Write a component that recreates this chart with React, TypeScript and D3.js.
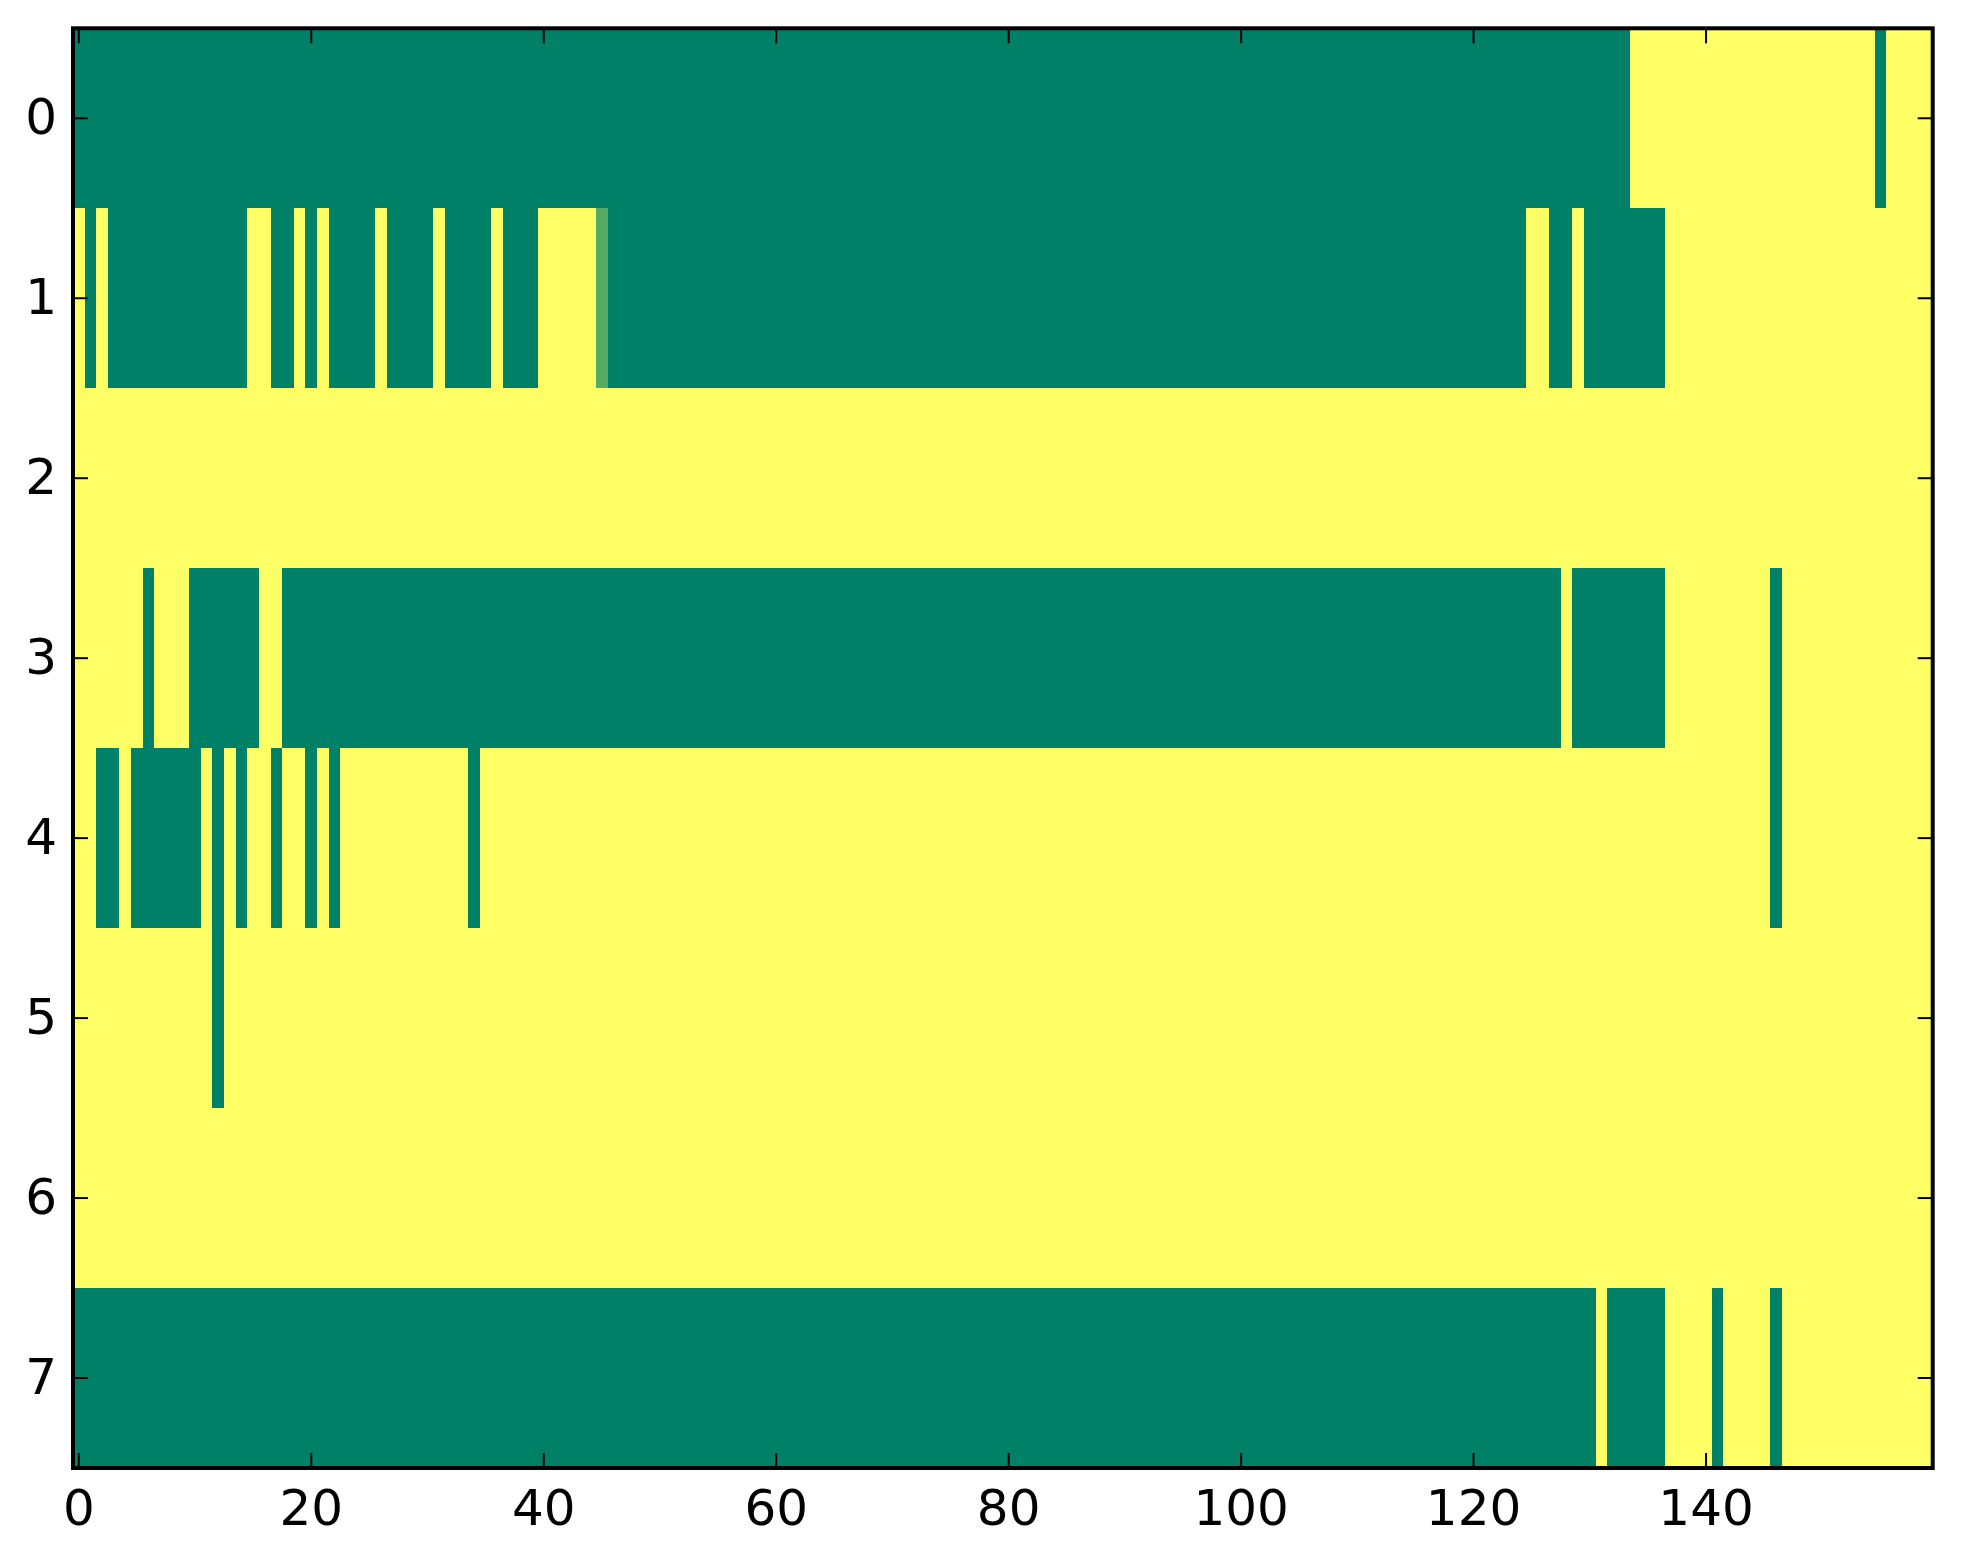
import React, { useRef, useEffect } from "react";
import * as d3 from "d3";

const WIDTH = 1963;
const HEIGHT = 1564;

// cell values: 0 = low (green), 1 = high (yellow), one cell in between
const LO = 0;
const HI = 1;
const MID = 1 / 3;

// each row is a run list of [value, number of columns], 160 columns per row
const row0 = [[LO, 134], [HI, 21], [LO, 1], [HI, 4]];
const row1 = [
  [HI, 1], [LO, 1], [HI, 1], [LO, 12], [HI, 2], [LO, 2], [HI, 1], [LO, 1],
  [HI, 1], [LO, 4], [HI, 1], [LO, 4], [HI, 1], [LO, 4], [HI, 1], [LO, 3],
  [HI, 5], [MID, 1], [LO, 79], [HI, 2], [LO, 2], [HI, 1], [LO, 7], [HI, 23],
];
const row2 = [[HI, 160]];
const row3 = [
  [HI, 6], [LO, 1], [HI, 3], [LO, 6], [HI, 2], [LO, 110], [HI, 1], [LO, 8],
  [HI, 9], [LO, 1], [HI, 13],
];
const row4 = [
  [HI, 2], [LO, 2], [HI, 1], [LO, 6], [HI, 1], [LO, 1], [HI, 1], [LO, 1],
  [HI, 2], [LO, 1], [HI, 2], [LO, 1], [HI, 1], [LO, 1], [HI, 11], [LO, 1],
  [HI, 111], [LO, 1], [HI, 13],
];
const row5 = [[HI, 12], [LO, 1], [HI, 147]];
const row6 = [[HI, 160]];
const row7 = [[LO, 131], [HI, 1], [LO, 5], [HI, 4], [LO, 1], [HI, 4], [LO, 1], [HI, 13]];

const rows = [row0, row1, row2, row3, row4, row5, row6, row7];
const nCols = 160;

const xTicks = [0, 20, 40, 60, 80, 100, 120, 140];
const yTicks = [0, 1, 2, 3, 4, 5, 6, 7];

export default function App() {
  const ref = useRef<HTMLDivElement>(null);

  useEffect(() => {
    if (!ref.current) return;
    document.body.style.margin = "0";
    ref.current.innerHTML = "";

    const box = { left: 73, right: 1932.7, top: 28.3, bottom: 1468 };

    const svg = d3.select(ref.current)
      .append("svg")
      .attr("width", WIDTH)
      .attr("height", HEIGHT)
      .style("display", "block")
      .style("background", "#fff");

    const x = d3.scaleLinear().domain([-0.5, nCols - 0.5]).range([box.left, box.right]);
    const y = d3.scaleLinear().domain([-0.5, rows.length - 0.5]).range([box.top, box.bottom]);

    // matplotlib "summer" colormap
    const color = d3.scaleLinear<string>().domain([0, 1]).range(["#008066", "#ffff66"]);

    // turn run lists into rectangles
    const cells: { row: number; start: number; end: number; v: number }[] = [];
    rows.forEach((runs, r) => {
      let c = 0;
      runs.forEach(([v, n]) => {
        cells.push({ row: r, start: c, end: c + n - 1, v });
        c += n;
      });
    });

    svg.append("g")
      .selectAll("rect")
      .data(cells)
      .enter()
      .append("rect")
      .attr("x", d => x(d.start - 0.5))
      .attr("y", d => y(d.row - 0.5))
      .attr("width", d => x(d.end + 0.5) - x(d.start - 0.5))
      .attr("height", d => y(d.row + 0.5) - y(d.row - 0.5))
      .attr("fill", d => color(d.v))
      .attr("shape-rendering", "crispEdges");

    const tickLen = 15;
    const ticks = svg.append("g").attr("stroke", "#000").attr("stroke-width", 2);

    // inward ticks on all four sides
    xTicks.forEach(t => {
      ticks.append("line").attr("x1", x(t)).attr("x2", x(t)).attr("y1", box.bottom).attr("y2", box.bottom - tickLen);
      ticks.append("line").attr("x1", x(t)).attr("x2", x(t)).attr("y1", box.top).attr("y2", box.top + tickLen);
    });
    yTicks.forEach(t => {
      ticks.append("line").attr("x1", box.left).attr("x2", box.left + tickLen).attr("y1", y(t)).attr("y2", y(t));
      ticks.append("line").attr("x1", box.right).attr("x2", box.right - tickLen).attr("y1", y(t)).attr("y2", y(t));
    });

    svg.append("rect")
      .attr("x", box.left)
      .attr("y", box.top)
      .attr("width", box.right - box.left)
      .attr("height", box.bottom - box.top)
      .attr("fill", "none")
      .attr("stroke", "#000")
      .attr("stroke-width", 4);

    const font = "'DejaVu Sans', sans-serif";

    svg.append("g")
      .selectAll("text")
      .data(xTicks)
      .enter()
      .append("text")
      .attr("x", d => x(d))
      .attr("y", 1525)
      .attr("text-anchor", "middle")
      .attr("font-family", font)
      .attr("font-size", 50)
      .text(d => String(d));

    svg.append("g")
      .selectAll("text")
      .data(yTicks)
      .enter()
      .append("text")
      .attr("x", 57)
      .attr("y", d => y(d) + 16)
      .attr("text-anchor", "end")
      .attr("font-family", font)
      .attr("font-size", 50)
      .text(d => String(d));
  }, []);

  return <div ref={ref} />;
}
